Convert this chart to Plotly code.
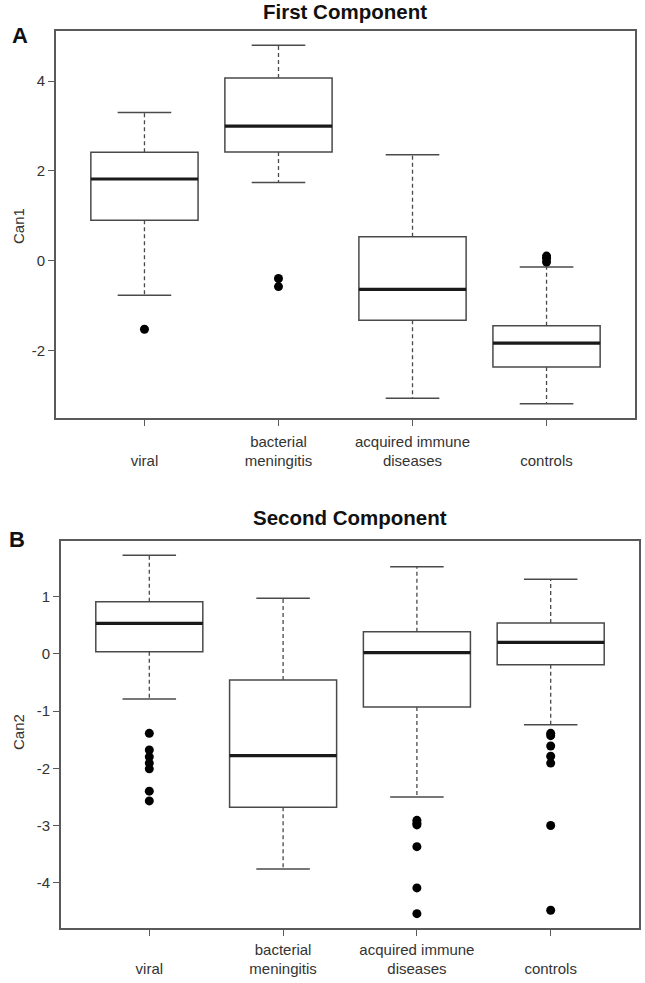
import plotly.graph_objects as go

# ---------------- data ----------------
categories = ["viral", "bacterial meningitis", "acquired immune diseases", "controls"]
tick_labels = [" <br>viral", "bacterial<br>meningitis", "acquired immune<br>diseases", " <br>controls"]
positions = [1, 2, 3, 4]
y1_ticks = [-2, 0, 2, 4]
y2_ticks = [-4, -3, -2, -1, 0, 1]

# First component (Can1)
c1_lo = [-0.77, 1.74, -3.07, -3.19]
c1_q1 = [0.90, 2.42, -1.33, -2.37]
c1_med = [1.82, 3.00, -0.64, -1.84]
c1_q3 = [2.415, 4.07, 0.53, -1.45]
c1_hi = [3.30, 4.80, 2.36, -0.14]
c1_out_viral = [-1.53]
c1_out_bact = [-0.40, -0.58]
c1_out_acq = []
c1_out_ctrl = [0.10, 0.05, -0.03]

# Second component (Can2)
c2_lo = [-0.79, -3.76, -2.50, -1.24]
c2_q1 = [0.035, -2.68, -0.93, -0.19]
c2_med = [0.53, -1.78, 0.02, 0.20]
c2_q3 = [0.91, -0.46, 0.385, 0.54]
c2_hi = [1.72, 0.97, 1.52, 1.30]
c2_out_viral = [-1.39, -1.68, -1.80, -1.91, -2.01, -2.40, -2.57]
c2_out_bact = []
c2_out_acq = [-2.91, -2.96, -2.99, -3.37, -4.09, -4.54]
c2_out_ctrl = [-1.39, -1.43, -1.61, -1.79, -1.91, -3.00, -4.48]

# ---------------- styling ----------------
W, H = 645, 983
FONT = "Liberation Sans, Arial, Helvetica, sans-serif"
BOXC = "#4a4a4a"
FRAMEC = "#5a5a5a"
BOXW = 0.8
CAPW = 0.4

fig = go.Figure()


def add_panel(xa, ya, lo, q1, med, q3, hi, outs):
    xref = "x" if xa == 1 else f"x{xa}"
    yref = "y" if ya == 1 else f"y{ya}"
    # boxes (no whiskers from the Box trace itself)
    for p, a, m, b in zip(positions, q1, med, q3):
        fig.add_trace(go.Box(
            x=[p], q1=[a], median=[m], q3=[b], lowerfence=[a], upperfence=[b],
            width=BOXW, whiskerwidth=0, fillcolor="white",
            line=dict(color=BOXC, width=1.5), boxpoints=False,
            xaxis=xref, yaxis=yref, showlegend=False, hoverinfo="skip"))
    # dashed whiskers
    wx, wy = [], []
    for p, l, a, b, h in zip(positions, lo, q1, q3, hi):
        wx += [p, p, None, p, p, None]
        wy += [b, h, None, a, l, None]
    fig.add_trace(go.Scatter(x=wx, y=wy, mode="lines", xaxis=xref, yaxis=yref,
                             line=dict(color=BOXC, width=1.3, dash="4px,3px"),
                             showlegend=False, hoverinfo="skip"))
    # whisker caps
    cx, cy = [], []
    for p, l, h in zip(positions, lo, hi):
        cx += [p - CAPW / 2, p + CAPW / 2, None, p - CAPW / 2, p + CAPW / 2, None]
        cy += [h, h, None, l, l, None]
    fig.add_trace(go.Scatter(x=cx, y=cy, mode="lines", xaxis=xref, yaxis=yref,
                             line=dict(color=BOXC, width=1.5),
                             showlegend=False, hoverinfo="skip"))
    # thick medians
    mx, my = [], []
    for p, m in zip(positions, med):
        mx += [p - BOXW / 2, p + BOXW / 2, None]
        my += [m, m, None]
    fig.add_trace(go.Scatter(x=mx, y=my, mode="lines", xaxis=xref, yaxis=yref,
                             line=dict(color="#1a1a1a", width=3.2),
                             showlegend=False, hoverinfo="skip"))
    # outliers
    ox, oy = [], []
    for p, vals in zip(positions, outs):
        ox += [p] * len(vals)
        oy += list(vals)
    fig.add_trace(go.Scatter(x=ox, y=oy, mode="markers", xaxis=xref, yaxis=yref,
                             marker=dict(color="black", size=9, line=dict(width=0)),
                             showlegend=False, hoverinfo="skip"))
    allv = list(lo) + list(hi) + oy
    vmin, vmax = min(allv), max(allv)
    pad = 0.04 * (vmax - vmin)
    return [vmin - pad, vmax + pad]


r1 = add_panel(1, 1, c1_lo, c1_q1, c1_med, c1_q3, c1_hi,
               [c1_out_viral, c1_out_bact, c1_out_acq, c1_out_ctrl])
r2 = add_panel(2, 2, c2_lo, c2_q1, c2_med, c2_q3, c2_hi,
               [c2_out_viral, c2_out_bact, c2_out_acq, c2_out_ctrl])

xpad = 0.5 + 0.04 * 4
xrange_ = [1 - xpad, 4 + xpad]

axis_common = dict(showline=True, linecolor=FRAMEC, linewidth=1.6, mirror=True,
                   ticks="outside", ticklen=6, tickwidth=1.2, tickcolor=FRAMEC,
                   showgrid=False, zeroline=False,
                   tickfont=dict(family=FONT, size=15, color="#333333"))

fig.update_layout(
    width=W, height=H, margin=dict(l=0, r=0, t=0, b=0),
    paper_bgcolor="white", plot_bgcolor="white",
    xaxis=dict(domain=[56 / W, 635 / W], range=xrange_, tickvals=positions,
               ticktext=tick_labels, anchor="y", ticklabelstandoff=3, **axis_common),
    yaxis=dict(domain=[1 - 418 / H, 1 - 31 / H], range=r1, tickvals=y1_ticks,
               ticktext=[str(v) for v in y1_ticks], anchor="x", **axis_common),
    xaxis2=dict(domain=[61 / W, 639 / W], range=xrange_, tickvals=positions,
                ticktext=tick_labels, anchor="y2", ticklabelstandoff=1, **axis_common),
    yaxis2=dict(domain=[1 - 928 / H, 1 - 541 / H], range=r2, tickvals=y2_ticks,
                ticktext=[str(v) for v in y2_ticks], anchor="x2", **axis_common),
)

ann = [
    dict(text="<b>First Component</b>", x=345 / W, y=1 - 11 / H, size=20.5),
    dict(text="<b>A</b>", x=20 / W, y=1 - 35 / H, size=22),
    dict(text="<b>Second Component</b>", x=350 / W, y=1 - 517 / H, size=20.5),
    dict(text="<b>B</b>", x=17 / W, y=1 - 539 / H, size=22),
]
for a in ann:
    fig.add_annotation(text=a["text"], x=a["x"], y=a["y"], xref="paper", yref="paper",
                       showarrow=False, xanchor="center", yanchor="middle",
                       font=dict(family=FONT, size=a["size"], color="#111111"))

fig.add_annotation(text="Can1", x=18 / W, y=1 - 226 / H, xref="paper", yref="paper",
                   showarrow=False, textangle=-90, xanchor="center", yanchor="middle",
                   font=dict(family=FONT, size=15, color="#333333"))
fig.add_annotation(text="Can2", x=18 / W, y=1 - 732 / H, xref="paper", yref="paper",
                   showarrow=False, textangle=-90, xanchor="center", yanchor="middle",
                   font=dict(family=FONT, size=15, color="#333333"))

fig.write_html("out.html", config={"displayModeBar": False},
               post_script="document.body.style.margin='0';")
